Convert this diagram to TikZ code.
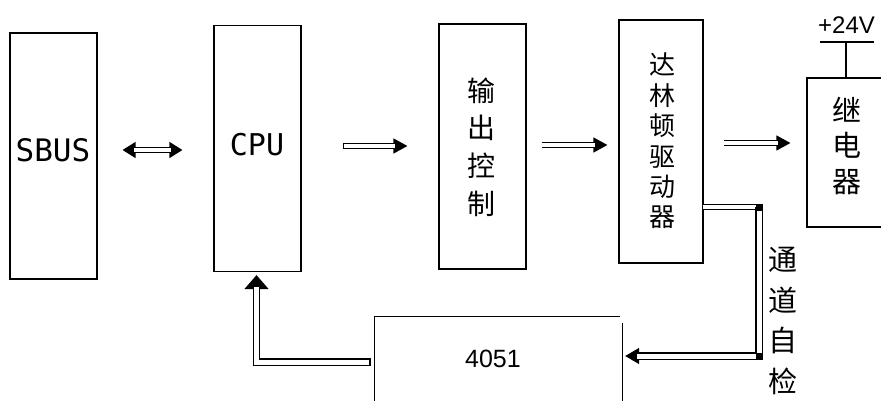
\documentclass[tikz,border=0pt]{standalone}
\usepackage{fontspec}
\newfontfamily\cjk{Noto Sans CJK SC}
\newfontfamily\monofnt{DejaVu Sans Mono}
\newfontfamily\arialfnt{Liberation Sans}
\usetikzlibrary{arrows.meta,calc}
\begin{document}
\begin{tikzpicture}[x=1pt,y=-1pt,
  box/.style={draw, line width=1.2pt, inner sep=0pt},
  dbl/.style={draw, line width=1.4pt, double=white, double distance=3.4pt, line join=miter},
  wide/.style={line width=1.4pt, double distance=5pt},
  single/.style={draw, line width=1.4pt},
  cjktxt/.style={font=\cjk\fontsize{#1}{#1}\selectfont, align=center, inner sep=0pt},
  cornerdot/.style={fill=black, minimum size=7pt, inner sep=0pt},
]
\useasboundingbox (0,0) rectangle (881,400);
\clip (0,0) rectangle (881,400);
\fill[white] (0,0) rectangle (881,400);

% boxes
\node[box, minimum width=87pt, minimum height=246pt] (sbus) at (53.5,156) {};
\node[box, minimum width=87pt, minimum height=246pt] (cpu) at (257.5,148.5) {};
\node[box, minimum width=87pt, minimum height=245pt] (out) at (482.5,146.5) {};
\node[box, minimum width=84pt, minimum height=243pt] (darl) at (661,141.5) {};
\node[box, minimum width=80pt, minimum height=149pt] (relay) at (847,152.5) {};
\node[inner sep=0pt, minimum width=247pt, minimum height=103pt] (mux) at (498.5,368.5) {};
\draw[line width=1.2pt] (mux.north east) ++(-2,0) -- (mux.north west) -- (mux.south west);
\draw[line width=1.2pt] (mux.north east) ++(0,6) -- (mux.south east);

% texts
\node[font=\monofnt\fontsize{31}{31}\selectfont, inner sep=0pt] (sbust) at (53,150) {SBUS};
\node[font=\monofnt\fontsize{30}{30}\selectfont, inner sep=0pt] (cput) at (257,145) {CPU};
\node[cjktxt=28, execute at begin node={\setlength{\baselineskip}{37.7pt}}] (outt) at (481,147) {输\\出\\控\\制};
\node[cjktxt=26, execute at begin node={\setlength{\baselineskip}{30.4pt}}] (darlt) at (662,141) {达\\林\\顿\\驱\\动\\器};
\node[cjktxt=29, execute at begin node={\setlength{\baselineskip}{35.5pt}}] (relayt) at (847,145.5) {继\\电\\器};
\node[cjktxt=29, execute at begin node={\setlength{\baselineskip}{40.5pt}}] (checkt) at (783,321) {通\\道\\自\\检};
\node[font=\arialfnt\fontsize{25}{25}\selectfont, inner sep=0pt] (muxt) at (493,359) {4051};
\node[font=\arialfnt\fontsize{24}{24}\selectfont, inner sep=0pt, anchor=base west] (vcc) at (818,33) {+24V};

% +24V supply
\coordinate (vl) at (820,42);
\coordinate (vr) at (874,42);
\coordinate (vm) at (846,42);
\draw[line width=1.2pt] (vl) -- (vr);
\draw[line width=1.2pt] (vm) -- (vm |- relay.north);

% forward arrows: single line with tip, then double shaft over it
% SBUS <-> CPU
\coordinate (a1) at ($(sbus.east)+(25,-6)$);
\coordinate (a2) at ($(cpu.west)+(-31,1.5)$);
\draw[single, {Triangle[length=13pt,width=16pt]}-{Triangle[length=13pt,width=16pt]}] (a1) -- (a2);
\draw[dbl, shorten <=11pt, shorten >=11pt] (a1) -- (a2);
% CPU -> output control
\coordinate (b1) at ($(cpu.east)+(42,-2.5)$);
\coordinate (b2) at ($(out.west)+(-31,-0.5)$);
\draw[single, -{Triangle[length=14pt,width=15pt]}] (b1) -- (b2);
\draw[dbl, shorten >=12pt] (b1) -- (b2);
\draw[line width=1.4pt] ($(b1)+(0,-3.4)$) -- ($(b1)+(0,3.4)$);
% output control -> Darlington
\coordinate (c1) at ($(out.east)+(15,-1.5)$);
\coordinate (c2) at ($(darl.west)+(-11,3.5)$);
\draw[single, -{Triangle[length=14pt,width=15pt]}] (c1) -- (c2);
\draw[dbl, shorten >=12pt] (c1) -- (c2);
% Darlington -> relay
\coordinate (d1) at ($(darl.east)+(20,1.5)$);
\coordinate (d2) at ($(relay.west)+(-16,-9.5)$);
\draw[single, -{Triangle[length=14pt,width=15pt]}] (d1) -- (d2);
\draw[dbl, shorten >=12pt] (d1) -- (d2);

% channel self-test feedback
\coordinate (fb0) at ($(darl.east)+(-1,65.5)$);
\coordinate (fb1) at (759,207);
\coordinate (fb2) at (759,356);
\coordinate (fb3) at ($(mux.east)+(3,-12.5)$);
\draw[single, -{Triangle[length=14pt,width=16pt]}] ($(fb3)+(20,0)$) -- (fb3);
\draw[dbl, line width=1.3pt, double distance=3.6pt] (fb0) -- (fb1);
\draw[dbl, wide, shorten >=12pt] (fb1) -- (fb2) -- (fb3);
\node[cornerdot] (k1) at (fb1) {};
\node[cornerdot] (k2) at (fb2) {};

% 4051 to CPU
\coordinate (fs) at ($(mux.west)+(-5,-6.5)$);
\coordinate (fc) at (256.5,362);
\coordinate (fe) at ($(cpu.south)+(-1,3)$);
\draw[single, -{Triangle[length=14pt,width=24pt]}] ($(fe)+(0,20)$) -- (fe);
\draw[dbl, wide, shorten >=12pt] (fs) -- (fc) -- (fe);
\draw[line width=1.4pt] ($(fs)+(0,-4.2)$) -- ($(fs)+(0,4.2)$);
\end{tikzpicture}
\end{document}
